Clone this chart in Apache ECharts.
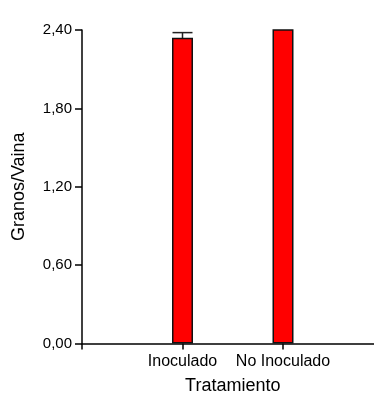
<!DOCTYPE html>
<html>
<head>
<meta charset="utf-8">
<style>
  html, body { margin: 0; padding: 0; background: #fff; }
  #chart { width: 374px; height: 394px; }
</style>
<script src="https://cdn.jsdelivr.net/npm/echarts@6/dist/echarts.min.js"></script>
</head>
<body>
<div id="chart"></div>
<script>
// Treatment categories; empty slots pad the axis on both sides
const categories = ['', 'Inoculado', 'No Inoculado', ''];
// Mean grains per pod for each treatment
const means = [null, 2.34, 2.41, null];
// Standard error for each treatment
const errors = [null, 0.04, 0, null];
// Y-axis range and step
const yMin = 0;
const yMax = 2.4;
const yStep = 0.6;

const chart = echarts.init(document.getElementById('chart'), null, { renderer: 'canvas' });
const font = 'Arial, "Liberation Sans", sans-serif';

const errorData = [];
means.forEach(function (m, i) {
  if (m != null && errors[i] > 0) errorData.push([i, m - errors[i], m + errors[i]]);
});

chart.setOption({
  animation: false,
  backgroundColor: '#fff',
  grid: {
    left: 82, right: -9.5, top: 30, bottom: 50.5,
    containLabel: false,
    outerBoundsMode: 'none'
  },
  xAxis: {
    type: 'category',
    data: categories,
    boundaryGap: false,
    name: 'Tratamiento',
    nameLocation: 'middle',
    nameGap: 34,
    nameTextStyle: { fontFamily: font, fontSize: 18, color: '#000' },
    axisLine: { lineStyle: { color: '#000', width: 1.5 } },
    axisTick: { interval: 0, length: 6, lineStyle: { color: '#000', width: 1.5 } },
    axisLabel: { interval: 0, fontFamily: font, fontSize: 16, color: '#000', margin: 10 },
    splitLine: { show: false }
  },
  yAxis: {
    type: 'value',
    min: yMin,
    max: yMax,
    interval: yStep,
    name: 'Granos/Vaina',
    nameLocation: 'middle',
    nameRotate: 90,
    nameGap: 54,
    nameTextStyle: { fontFamily: font, fontSize: 18, color: '#000' },
    axisLine: { show: true, lineStyle: { color: '#000', width: 1.5 } },
    axisTick: { show: true, length: 7, lineStyle: { color: '#000', width: 1.5 } },
    axisLabel: {
      fontFamily: font, fontSize: 15, color: '#000', margin: 10,
      formatter: function (v) { return v.toFixed(2).replace('.', ','); }
    },
    splitLine: { show: false }
  },
  series: [
    {
      type: 'bar',
      data: means,
      barWidth: 21,
      itemStyle: { color: '#ff0000', borderColor: '#111', borderWidth: 1.5 }
    },
    {
      type: 'custom',
      data: errorData,
      z: 1,
      renderItem: function (params, api) {
        const x = api.coord([api.value(0), api.value(1)])[0];
        const lo = api.coord([api.value(0), api.value(1)])[1];
        const hi = api.coord([api.value(0), api.value(2)])[1];
        const half = 10;
        const style = { stroke: '#222', lineWidth: 1.5 };
        return {
          type: 'group',
          children: [
            { type: 'line', shape: { x1: x, y1: lo, x2: x, y2: hi }, style: style },
            { type: 'line', shape: { x1: x - half, y1: hi, x2: x + half, y2: hi }, style: style }
          ]
        };
      }
    }
  ]
});
</script>
</body>
</html>
